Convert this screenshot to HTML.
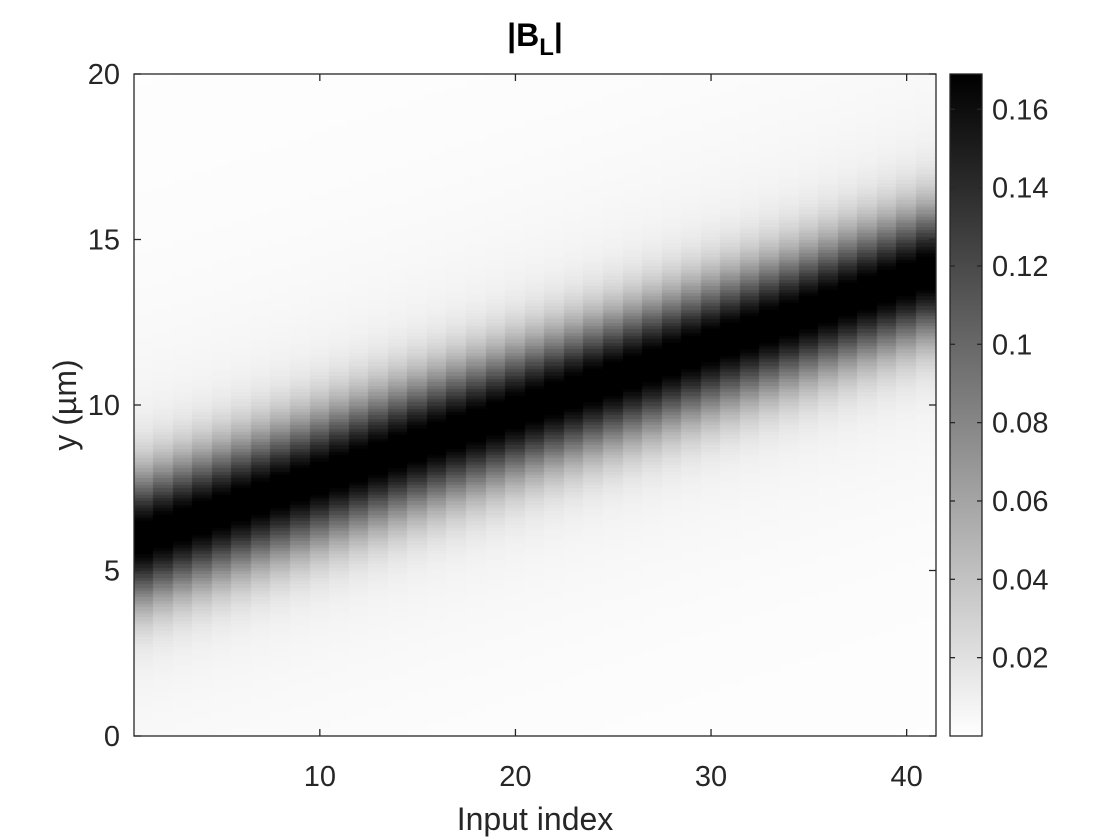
<!DOCTYPE html>
<html><head><meta charset="utf-8"><style>
body{margin:0;background:#fff;width:1120px;height:840px;overflow:hidden;font-family:"Liberation Sans",sans-serif}
</style></head><body>
<svg id="s" width="1120" height="840" xmlns="http://www.w3.org/2000/svg" style="position:absolute;left:0;top:0">
<foreignObject x="0" y="0" width="1120" height="840"><canvas xmlns="http://www.w3.org/1999/xhtml" id="c" width="1120" height="840"></canvas></foreignObject>
</svg>
<script>
const columns=[1,2,3,4,5,6,7,8,9,10,11,12,13,14,15,16,17,18,19,20,21,22,23,24,25,26,27,28,29,30,31,32,33,34,35,36,37,38,39,40,41];
const centers=[6.0,6.2,6.4,6.6,6.8,7.0,7.2,7.4,7.6,7.8,8.0,8.2,8.4,8.6,8.8,9.0,9.2,9.4,9.6,9.8,10.0,10.2,10.4,10.6,10.8,11.0,11.2,11.4,11.6,11.8,12.0,12.2,12.4,12.6,12.8,13.0,13.2,13.4,13.6,13.8,14.0];
const peaks=[0.18,0.18,0.18,0.18,0.18,0.18,0.18,0.18,0.18,0.18,0.18,0.18,0.18,0.18,0.18,0.18,0.18,0.18,0.18,0.18,0.18,0.18,0.18,0.18,0.18,0.18,0.18,0.18,0.18,0.18,0.18,0.18,0.18,0.18,0.18,0.18,0.18,0.18,0.18,0.18,0.18];
const widths=[1.3,1.3,1.3,1.3,1.3,1.3,1.3,1.3,1.3,1.3,1.3,1.3,1.3,1.3,1.3,1.3,1.3,1.3,1.3,1.3,1.3,1.3,1.3,1.3,1.3,1.3,1.3,1.3,1.3,1.3,1.3,1.3,1.3,1.3,1.3,1.3,1.3,1.3,1.3,1.3,1.3];
const xTicks=[10,20,30,40];
const yTicks=[0,5,10,15,20];
const cTicks=[0.02,0.04,0.06,0.08,0.1,0.12,0.14,0.16];
const cMax=0.169;
const L=134,R=936,T=74,B=736, CL=950,CR=982;
const xs=v=>L+(v-0.5)/41*(R-L);
const ys=v=>B-v/20*(B-T);
const cs=v=>B-v/cMax*(B-T);
const ctx=document.getElementById('c').getContext('2d');
function gray(v){const t=Math.max(0,Math.min(1,v/cMax));const g=Math.round(255*(1-t));return `rgb(${g},${g},${g})`;}
const dy=0.1;
columns.forEach((col,i)=>{
  for(let y=0;y<20;y+=dy){
    const d=(y+dy/2)-centers[i];
    const s=widths[i];
    const v=peaks[i]*(0.88*Math.exp(-d*d/(2*s*s))+0.12/(1+(d/3)*(d/3)));
    ctx.fillStyle=gray(v);
    const x0=Math.floor(xs(col-0.5)),x1=Math.ceil(xs(col+0.5));
    const y0=Math.floor(ys(y+dy)),y1=Math.ceil(ys(y));
    ctx.fillRect(x0,y0,x1-x0,y1-y0);
  }
});
for(let p=T;p<B;p++){const v=(B-p-0.5)/(B-T)*cMax;ctx.fillStyle=gray(v);ctx.fillRect(CL,p,CR-CL,1);}
const s=document.getElementById('s');const NS='http://www.w3.org/2000/svg';
function el(t,a,txt){const e=document.createElementNS(NS,t);for(const k in a)e.setAttribute(k,a[k]);if(txt!==undefined)e.textContent=txt;s.appendChild(e);return e;}
let e;
e=el('rect',{x:L,y:T,width:R-L,height:B-T,fill:'none',stroke:'#262626','stroke-width':1.3});

e=el('rect',{x:CL,y:T,width:CR-CL,height:B-T,fill:'none',stroke:'#262626','stroke-width':1.3});

xTicks.forEach(v=>{const x=xs(v);
 e=el('line',{x1:x,x2:x,y1:B,y2:B-7,stroke:'#262626','stroke-width':1.3});
 e=el('line',{x1:x,x2:x,y1:T,y2:T+7,stroke:'#262626','stroke-width':1.3});
 e=el('text',{x:x,y:B+50,'text-anchor':'middle','font-size':29,fill:'#262626'},String(v));});
yTicks.forEach(v=>{const y=ys(v);
 e=el('line',{x1:L,x2:L+7,y1:y,y2:y,stroke:'#262626','stroke-width':1.3});
 e=el('line',{x1:R,x2:R-7,y1:y,y2:y,stroke:'#262626','stroke-width':1.3});
 e=el('text',{x:L-14,y:y+10,'text-anchor':'end','font-size':29,fill:'#262626'},String(v));});
cTicks.forEach(v=>{const y=cs(v);
 e=el('line',{x1:CL,x2:CL+5,y1:y,y2:y,stroke:'#262626','stroke-width':1.3});
 e=el('line',{x1:CR,x2:CR-5,y1:y,y2:y,stroke:'#262626','stroke-width':1.3});
 e=el('text',{x:CR+10,y:y+10,'font-size':29,fill:'#262626'},String(v));});
e=el('text',{x:(L+R)/2,y:830,'text-anchor':'middle','font-size':32,fill:'#262626'},'Input index');
e=el('text',{x:0,y:0,'text-anchor':'middle','font-size':32,fill:'#262626',transform:`translate(76,${(T+B)/2}) rotate(-90)`},'y (µm)');
e=el('text',{x:(L+R)/2,y:46,'text-anchor':'middle','font-size':32,'font-weight':'bold',fill:'#000'});

e.innerHTML='|B<tspan font-size="24" dy="9">L</tspan><tspan dy="-9">|</tspan>';
</script>
</body></html>
